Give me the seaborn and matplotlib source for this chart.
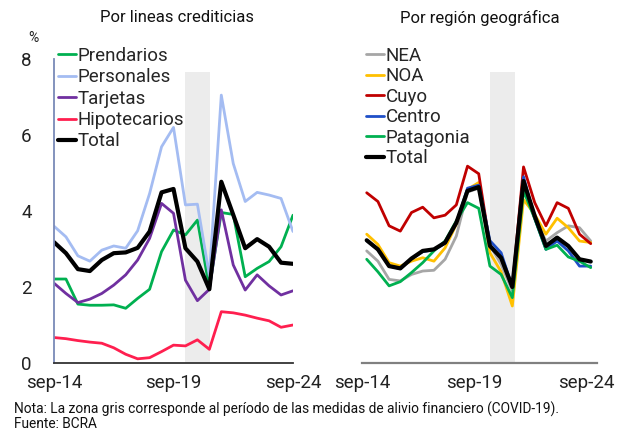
import numpy as np
import pandas as pd
import matplotlib
matplotlib.use("Agg")
import matplotlib.pyplot as plt
import seaborn as sns

sns.set_style("white")
plt.rcParams['font.family'] = ['Roboto', 'DejaVu Sans']

# ---------------- data ----------------
# semiannual observations, decimal years
fechas_lineas = [2014.75 + 0.5 * i for i in range(21)]
fechas_region = [2014.96 + 0.5 * i for i in range(21)]

prendarios = [2.21, 2.21, 1.55, 1.52, 1.52, 1.53, 1.44, 1.70, 1.94, 2.93, 3.50,
              3.37, 3.76, 1.97, 3.96, 3.91, 2.27, 2.49, 2.67, 3.06, 3.89]
personales = [3.60, 3.32, 2.82, 2.68, 2.97, 3.08, 3.02, 3.48, 4.46, 5.69, 6.20,
              4.16, 4.18, 2.30, 7.05, 5.25, 4.25, 4.49, 4.42, 4.33, 3.46]
tarjetas = [2.10, 1.83, 1.59, 1.68, 1.83, 2.05, 2.32, 2.71, 3.28, 4.20, 3.94,
            2.18, 1.64, 1.94, 4.03, 2.58, 1.92, 2.32, 2.03, 1.79, 1.90]
hipotecarios = [0.67, 0.64, 0.59, 0.55, 0.52, 0.40, 0.23, 0.11, 0.14, 0.30, 0.47,
                0.45, 0.61, 0.36, 1.35, 1.32, 1.26, 1.18, 1.11, 0.94, 1.00]
total_lineas = [3.18, 2.89, 2.47, 2.42, 2.71, 2.89, 2.91, 3.03, 3.46, 4.49, 4.58,
                3.02, 2.67, 1.94, 4.77, 3.90, 3.02, 3.26, 3.06, 2.64, 2.61]

nea = [2.95, 2.68, 2.20, 2.16, 2.33, 2.42, 2.44, 2.73, 3.34, 4.50, 4.60,
       3.10, 2.60, 1.90, 4.60, 3.80, 3.21, 3.43, 3.61, 3.56, 3.21]
noa = [3.39, 3.12, 2.64, 2.55, 2.68, 2.77, 2.68, 3.03, 3.65, 4.57, 4.75,
       2.90, 2.40, 1.50, 4.30, 3.91, 3.39, 3.81, 3.56, 3.21, 3.17]
cuyo = [4.48, 4.25, 3.61, 3.47, 3.96, 4.10, 3.82, 3.89, 4.16, 5.18, 4.98,
        3.10, 2.75, 2.00, 5.16, 4.22, 3.61, 4.22, 4.07, 3.39, 3.14]
centro = [3.22, 2.98, 2.56, 2.48, 2.74, 2.93, 2.98, 3.15, 3.68, 4.60, 4.68,
          3.22, 2.90, 2.00, 4.90, 3.80, 2.99, 3.21, 2.95, 2.55, 2.55]
patagonia = [2.73, 2.40, 2.03, 2.14, 2.38, 2.64, 2.95, 3.21, 3.74, 4.22, 4.07,
             2.55, 2.33, 1.72, 4.53, 3.80, 2.99, 3.10, 2.79, 2.68, 2.51]
total_region = [3.23, 2.99, 2.55, 2.49, 2.75, 2.95, 2.99, 3.17, 3.69, 4.53, 4.63,
                3.08, 2.77, 2.00, 4.79, 3.87, 3.08, 3.30, 3.08, 2.73, 2.67]

tick_pos = [2014.75, 2019.75, 2024.75]
tick_lab = ["sep-14", "sep-19", "sep-24"]

banda_lineas = (2020.25, 2021.29)
banda_region = (2020.46, 2021.58)
banda_top = 7.65

series_lineas = [("Prendarios", prendarios, "#00b050", 2.0),
                 ("Personales", personales, "#a4bcf2", 2.0),
                 ("Tarjetas", tarjetas, "#7030a0", 2.0),
                 ("Hipotecarios", hipotecarios, "#ff1f4f", 2.0),
                 ("Total", total_lineas, "#000000", 3.0)]
series_region = [("NEA", nea, "#a6a6a6", 2.0),
                 ("NOA", noa, "#ffc000", 2.0),
                 ("Cuyo", cuyo, "#c00000", 2.0),
                 ("Centro", centro, "#1f4fc8", 2.0),
                 ("Patagonia", patagonia, "#00b050", 2.0),
                 ("Total", total_region, "#000000", 3.0)]

# ---------------- figure ----------------
fig = plt.figure(figsize=(6.2, 4.32), dpi=100)
bottom = 1 - 363 / 432
top = 1 - 59 / 432
ax1 = fig.add_axes([54 / 620, bottom, (293 - 54) / 620, top - bottom])
ax2 = fig.add_axes([362 / 620, bottom, (597 - 362) / 620, top - bottom])

for ax, fechas, series, banda, xlim in [
        (ax1, fechas_lineas, series_lineas, banda_lineas, (2014.75, 2024.75)),
        (ax2, fechas_region, series_region, banda_region, (2014.75, 2025.24))]:
    ax.fill_between(list(banda), 0, banda_top, color="#ececec", lw=0, zorder=0)
    for name, vals, col, lw in series:
        df = pd.DataFrame({"fecha": fechas, "valor": vals})
        sns.lineplot(data=df, x="fecha", y="valor", ax=ax, color=col,
                     lw=lw, label=name, legend=False, solid_joinstyle="round")
    ax.set_xlim(*xlim)
    ax.set_ylim(0, 8)
    ax.set_xlabel("")
    ax.set_ylabel("")
    ax.set_xticks(tick_pos)
    ax.set_xticklabels(tick_lab)
    ax.tick_params(axis="x", direction="in", length=5, width=1.2,
                   labelsize=13.5, pad=8, colors="#222222")
    ax.patch.set_alpha(0)
    for s in ["top", "right"]:
        ax.spines[s].set_visible(False)

# left axis styling
ax1.set_yticks([0, 2, 4, 6, 8])
ax1.set_yticklabels(["0", "2", "4", "6", "8"])
ax1.tick_params(axis="y", direction="out", length=4, width=1.0,
                labelsize=13.5, pad=12, color="#1f2a55", labelcolor="#222222")
ax1.spines["left"].set_color("#7a8ab8")
ax1.spines["left"].set_linewidth(1.3)
ax1.spines["bottom"].set_color("#333333")
ax1.spines["bottom"].set_linewidth(1.3)

ax2.set_yticks([])
ax2.spines["left"].set_visible(False)
ax2.spines["bottom"].set_color("#808080")
ax2.spines["bottom"].set_linewidth(1.6)
ax2.tick_params(axis="x", colors="#555555", labelcolor="#222222")

# legends
h1, l1 = ax1.get_legend_handles_labels()
ax1.legend(h1, l1, loc="upper left", bbox_to_anchor=(58 / 620, 1 - 47 / 432),
           bbox_transform=fig.transFigure, frameon=False, fontsize=13.5,
           handlelength=0.95, handletextpad=0.1, labelspacing=0.18,
           borderpad=0, borderaxespad=0)
h2, l2 = ax2.get_legend_handles_labels()
ax2.legend(h2, l2, loc="upper left", bbox_to_anchor=(366 / 620, 1 - 47 / 432),
           bbox_transform=fig.transFigure, frameon=False, fontsize=13.5,
           handlelength=0.95, handletextpad=0.1, labelspacing=0.13,
           borderpad=0, borderaxespad=0)

# titles and notes
fig.text(177 / 620, 1 - 18 / 432, "Por lineas crediticias", ha="center",
         va="center", fontsize=12, color="#111111")
fig.text(480 / 620, 1 - 18 / 432, "Por región geográfica", ha="center",
         va="center", fontsize=12, color="#111111")
fig.text(33 / 620, 1 - 38 / 432, "%", ha="center", va="center",
         fontsize=10, color="#222222")
fig.text(14 / 620, 1 - 409 / 432,
         "Nota: La zona gris corresponde al período de las medidas de alivio financiero (COVID-19).",
         ha="left", va="center", fontsize=9.9, color="#111111")
fig.text(14 / 620, 1 - 424 / 432, "Fuente: BCRA", ha="left", va="center",
         fontsize=9.9, color="#111111")

fig.savefig("out.png", dpi=100)
